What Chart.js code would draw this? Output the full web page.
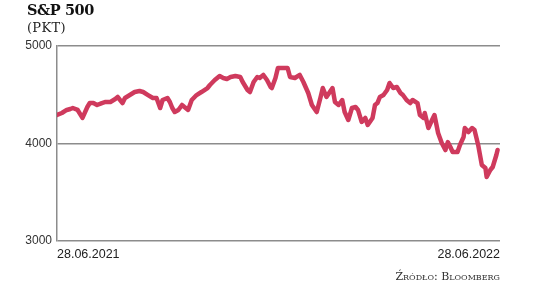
<!DOCTYPE html>
<html>
<head>
<meta charset="utf-8">
<script src="https://cdn.jsdelivr.net/npm/chart.js@4/dist/chart.umd.min.js"></script>
<style>
  html, body { margin:0; padding:0; background:#fff; }
  #wrap { position:relative; width:536px; height:293px; overflow:hidden; }
  #c { position:absolute; left:0; top:0; }
  #t1 { position:absolute; left:27px; top:1px; font-family:"DejaVu Serif",serif; font-weight:bold; font-size:14.5px; color:#111; white-space:nowrap; letter-spacing:-0.4px; }
  #t2 { position:absolute; left:27px; top:20px; font-family:"DejaVu Serif",serif; font-size:13px; color:#222; white-space:nowrap; letter-spacing:0.3px; }
  #src { position:absolute; right:36px; top:270px; font-family:"DejaVu Serif",serif; font-size:11px; font-variant:small-caps; color:#333; white-space:nowrap; }
</style>
</head>
<body>
<div id="wrap">
  <canvas id="c" width="536" height="293"></canvas>
  <div id="t1">S&amp;P 500</div>
  <div id="t2">(PKT)</div>
  <div id="src">Źródło: Bloomberg</div>
</div>
<script>
// Day offsets from 28.06.2021 and S&P 500 closing level
const days = [0,4,8,11,13,17,21,25,27,30,33,37,40,44,48,50,54,56,60,64,68,71,75,79,82,85,87,91,93,95,97,100,103,105,108,111,115,119,124,126,130,134,137,140,143,147,151,153,157,159,162,165,167,170,173,176,177,180,182,186,190,192,196,200,203,207,210,214,217,219,222,227,229,232,235,237,240,243,246,248,251,254,256,260,262,264,266,269,272,274,277,280,283,285,288,291,293,297,299,302,303,306,309,311,314,317,320,322,324,326,330,332,335,336,339,342,344,347,350,353,354,357,359,362,363];
const values = [4292,4313,4344,4354,4364,4344,4262,4374,4415,4415,4395,4415,4426,4426,4456,4477,4415,4467,4497,4528,4538,4528,4497,4467,4467,4364,4446,4467,4426,4364,4323,4344,4395,4374,4344,4446,4497,4528,4569,4600,4651,4692,4672,4662,4682,4692,4682,4631,4549,4528,4631,4682,4672,4703,4651,4579,4569,4672,4774,4774,4774,4682,4672,4703,4631,4518,4395,4323,4467,4569,4477,4569,4426,4395,4446,4323,4241,4364,4374,4344,4221,4262,4190,4262,4395,4415,4477,4497,4549,4621,4569,4579,4518,4497,4446,4415,4446,4415,4292,4262,4313,4159,4241,4292,4108,4005,3933,4015,3967,3913,3913,3985,4067,4159,4118,4159,4138,3985,3780,3749,3656,3728,3759,3882,3933];
const yTicks = [3000, 4000, 5000];
const xTickLabels = ["28.06.2021", "28.06.2022"];
const xMin = 0, xMax = 365;

const pts = days.map((d, i) => ({x: d, y: values[i]}));

new Chart(document.getElementById('c'), {
  type: 'line',
  data: { datasets: [{
    data: pts,
    borderColor: '#cf3a5d',
    borderWidth: 4.5,
    pointRadius: 0,
    tension: 0,
    borderJoinStyle: 'round',
    borderCapStyle: 'round',
    fill: false
  }]},
  options: {
    responsive: false,
    animation: false,
    devicePixelRatio: 1,
    layout: { padding: { left: 0, right: 36, top: 46, bottom: 31 } },
    plugins: { legend: { display: false }, tooltip: { enabled: false } },
    scales: {
      x: {
        type: 'linear', min: xMin, max: xMax,
        grid: { display: false, drawTicks: false },
        border: { display: false },
        afterBuildTicks: s => { s.ticks = [{value: xMin}, {value: xMax}]; },
        afterFit: s => { s.height = 21; },
        ticks: {
          autoSkip: false, maxRotation: 0, align: 'inner', padding: 6,
          color: '#222', font: { family: 'Liberation Sans, Arial, sans-serif', size: 12.5 },
          callback: (v) => v === xMin ? xTickLabels[0] : (v === xMax ? xTickLabels[1] : '')
        }
      },
      y: {
        min: 3000, max: 5000,
        afterBuildTicks: s => { s.ticks = yTicks.map(v => ({value: v})); },
        afterFit: s => { s.width = 57; },
        grid: { color: '#8c8c8c', lineWidth: 1.5, drawTicks: false },
        border: { display: true, color: '#8c8c8c', width: 1.5 },
        ticks: {
          padding: 5, color: '#333',
          font: { family: 'Liberation Sans, Arial, sans-serif', size: 12 },
          callback: v => String(v)
        }
      }
    }
  }
});
</script>
</body>
</html>
